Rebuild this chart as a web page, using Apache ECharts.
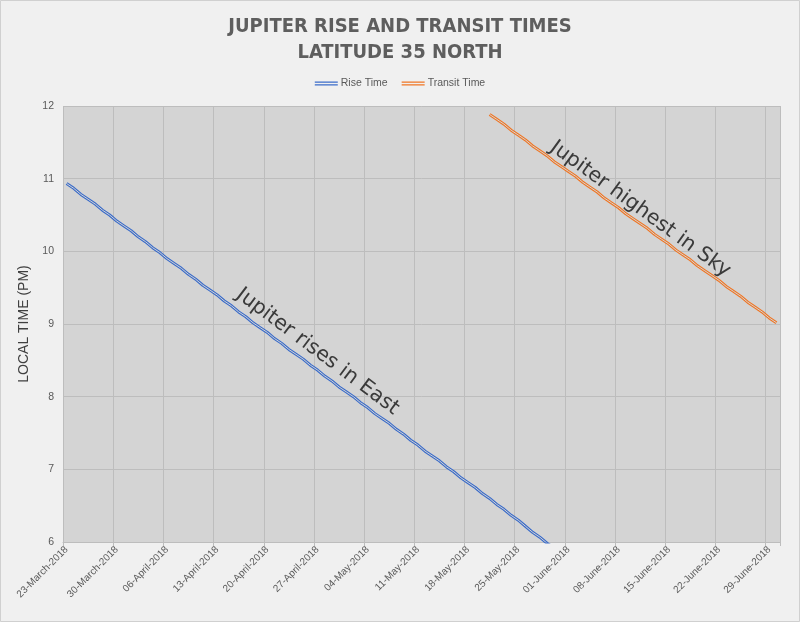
<!DOCTYPE html>
<html>
<head>
<meta charset="utf-8">
<script src="https://cdn.jsdelivr.net/npm/echarts@6/dist/echarts.min.js"></script>
<style>
html,body{margin:0;padding:0;background:#f0f0f0;}
#chart{width:800px;height:622px;}
</style>
</head>
<body>
<div id="chart"></div>
<script>
// ---- data ----
const firstDay = [2018, 2, 23];   // 23 March 2018 (month index 2)
const dayCount = 100;             // 23 March .. 30 June 2018
const monthNames = ['January','February','March','April','May','June','July','August','September','October','November','December'];
const tickLabels = ['23-March-2018','30-March-2018','06-April-2018','13-April-2018','20-April-2018','27-April-2018','04-May-2018','11-May-2018','18-May-2018','25-May-2018','01-June-2018','08-June-2018','15-June-2018','22-June-2018','29-June-2018'];
const riseStart = '23-March-2018';
const riseTimes = ['10:56','10:52','10:47','10:43','10:39','10:34','10:30','10:25','10:21','10:17',
  '10:12','10:08','10:03','9:59','9:54','9:50','9:46','9:41','9:37','9:32',
  '9:28','9:24','9:19','9:15','9:10','9:06','9:01','8:57','8:53','8:48',
  '8:44','8:39','8:35','8:31','8:26','8:22','8:17','8:13','8:08','8:04',
  '8:00','7:55','7:51','7:46','7:42','7:38','7:33','7:29','7:24','7:20',
  '7:15','7:11','7:07','7:02','6:58','6:53','6:49','6:45','6:40','6:36',
  '6:31','6:27','6:22','6:18','6:13','6:08','6:04','5:59','5:55'];
const transitStart = '21-May-2018';
const transitTimes = ['11:53','11:49','11:45','11:40','11:36','11:32','11:27','11:23','11:19','11:14',
  '11:10','11:06','11:02','10:57','10:53','10:49','10:44','10:40','10:36','10:31',
  '10:27','10:23','10:19','10:14','10:10','10:06','10:01','9:57','9:53','9:48',
  '9:44','9:40','9:36','9:31','9:27','9:23','9:18','9:14','9:10','9:05','9:01'];
const yTicks = {min: 6, max: 12, interval: 1};
const notes = [
  {text: 'Jupiter rises in East', date: '27-April-2018', value: 8.62, series: 'rise'},
  {text: 'Jupiter highest in Sky', date: '11-June-2018', value: 10.58, series: 'transit'}
];

// ---- build ----
const pad = n => (n < 10 ? '0' : '') + n;
const categories = [];
for (let i = 0; i < dayCount; i++) {
  const d = new Date(Date.UTC(firstDay[0], firstDay[1], firstDay[2] + i));
  categories.push(pad(d.getUTCDate()) + '-' + monthNames[d.getUTCMonth()] + '-' + d.getUTCFullYear());
}
const toHours = s => { const p = s.split(':').map(Number); return p[0] + p[1] / 60; };
const pairUp = (start, list) => {
  const s = categories.indexOf(start);
  return list.map((t, i) => [categories[s + i], toHours(t)]);
};
const riseData = pairUp(riseStart, riseTimes);
const transitData = pairUp(transitStart, transitTimes);

const BLUE = '#3b6cc9', ORANGE = '#ef7625', PLOT = '#d4d4d4', GRID = '#bdbdbd';
const narrow = "'Liberation Sans Narrow','DejaVu Sans Condensed','Liberation Sans',sans-serif";
const sans = "'Liberation Sans',Arial,sans-serif";

const chart = echarts.init(document.getElementById('chart'), null, {renderer: 'canvas'});
const lineSeries = (name, data, color, width, z) => ({
  name, type: 'line', data, symbol: 'none', showSymbol: false, z,
  color, lineStyle: {color, width}, itemStyle: {color}, silent: z > 2, clip: true
});
chart.setOption({
  animation: false,
  backgroundColor: '#f0f0f0',
  title: {
    text: 'JUPITER RISE AND TRANSIT TIMES\nLATITUDE 35 NORTH',
    left: 'center', top: 9,
    textStyle: {fontFamily: narrow, fontSize: 20, fontWeight: 'bold', color: '#5e5e5e', lineHeight: 26}
  },
  legend: {
    data: ['Rise Time', 'Transit Time'],
    top: 73, left: 'center',
    icon: 'path://M0,0H24V1.3H0Z M0,2.7H24V4H0Z',
    itemWidth: 23, itemHeight: 4, itemGap: 14,
    textStyle: {fontFamily: sans, fontSize: 10.5, color: '#595959', padding: [0, 0, 0, -2]}
  },
  grid: {left: 63, right: 20, top: 106, bottom: 80, show: true, backgroundColor: PLOT, borderWidth: 0},
  xAxis: {
    type: 'category', data: categories, boundaryGap: true,
    axisLine: {show: true, lineStyle: {color: GRID}},
    axisTick: {show: true, interval: 6, length: 4, lineStyle: {color: GRID}},
    splitLine: {show: true, interval: 6, lineStyle: {color: GRID, width: 1}},
    axisLabel: {
      interval: 6, rotate: 45, margin: 6, fontFamily: sans, fontSize: 10, color: '#595959',
      formatter: (v, i) => tickLabels[Math.round(i / 7)] || v
    }
  },
  yAxis: {
    type: 'value', min: yTicks.min, max: yTicks.max, interval: yTicks.interval,
    name: 'LOCAL TIME (PM)', nameLocation: 'middle', nameGap: 29,
    nameTextStyle: {fontFamily: sans, fontSize: 14, color: '#404040'},
    axisLine: {show: false}, axisTick: {show: false},
    splitLine: {lineStyle: {color: GRID, width: 1}},
    axisLabel: {fontFamily: sans, fontSize: 10.5, color: '#595959', margin: 9}
  },
  series: [
    lineSeries('Rise Time', riseData, BLUE, 3, 2),
    lineSeries('rise-gap', riseData, PLOT, 1, 3),
    lineSeries('Transit Time', transitData, ORANGE, 3, 2),
    lineSeries('transit-gap', transitData, PLOT, 1, 3)
  ]
});

// annotations placed in data coordinates, rotated along their line
const lineOf = {rise: riseData, transit: transitData};
const graphics = notes.map(n => {
  const pos = chart.convertToPixel({gridIndex: 0}, [n.date, n.value]);
  const d = lineOf[n.series];
  const a = chart.convertToPixel({gridIndex: 0}, d[0]);
  const b = chart.convertToPixel({gridIndex: 0}, d[d.length - 1]);
  const ang = Math.atan2(b[1] - a[1], b[0] - a[0]);
  return {
    type: 'text', x: pos[0], y: pos[1], rotation: -ang, z: 10,
    style: {text: n.text, x: 0, y: 0, align: 'center', verticalAlign: 'middle',
      font: "20.5px 'DejaVu Sans', sans-serif", fill: '#3a3a3a'}
  };
});
graphics.push({type: 'rect', shape: {x: 0.5, y: 0.5, width: 799, height: 621},
  style: {fill: null, stroke: '#d0d0d0', lineWidth: 1}, silent: true, z: 20});
chart.setOption({graphic: graphics});
</script>
</body>
</html>
